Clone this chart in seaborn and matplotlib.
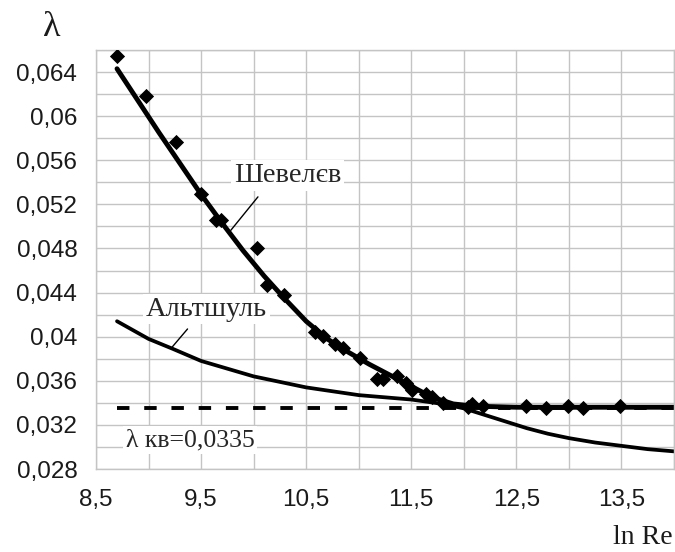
import matplotlib
matplotlib.use("Agg")
import matplotlib.pyplot as plt
import seaborn as sns

# curve: Shevelev formula
shev_x = [8.70, 8.90, 9.10, 9.30, 9.50, 9.70, 9.90, 10.10, 10.30, 10.50, 10.70,
          10.90, 11.10, 11.30, 11.50, 11.70, 11.90, 12.10, 12.50, 13.00, 13.50, 14.00]
shev_y = [0.0643, 0.0614, 0.0585, 0.0557, 0.0529, 0.0503, 0.0478, 0.0455, 0.0434,
          0.0414, 0.0398, 0.0386, 0.0375, 0.0365, 0.0355, 0.0345, 0.0339, 0.0337,
          0.0336, 0.0336, 0.0336, 0.0336]

# Altshul formula
alt_x = [8.70, 9.00, 9.23, 9.50, 10.00, 10.50, 11.00, 11.50, 11.80, 12.00, 12.20,
         12.40, 12.60, 12.80, 13.00, 13.25, 13.50, 13.75, 14.00]
alt_y = [0.0414, 0.0398, 0.0389, 0.0378, 0.0364, 0.0354, 0.0347, 0.0343, 0.0339,
         0.0335, 0.0329, 0.0323, 0.0317, 0.0312, 0.0308, 0.0304, 0.0301, 0.0298,
         0.0296]

# experimental points
exp_x = [8.70, 8.98, 9.26, 9.50, 9.64, 9.69, 10.03, 10.13, 10.29, 10.58, 10.66,
         10.77, 10.85, 11.01, 11.17, 11.23, 11.36, 11.45, 11.51, 11.64, 11.70,
         11.80, 12.04, 12.08, 12.18, 12.59, 12.78, 12.99, 13.13, 13.49]
exp_y = [0.0655, 0.0618, 0.0577, 0.0529, 0.0506, 0.0506, 0.0480, 0.0447, 0.0438,
         0.0404, 0.0401, 0.0393, 0.0390, 0.0381, 0.0362, 0.0362, 0.0364, 0.0358,
         0.0352, 0.0348, 0.0345, 0.0340, 0.0336, 0.0339, 0.0337, 0.0337, 0.0335,
         0.0337, 0.0335, 0.0337]

# quadratic-law value
kv_x = [8.70, 14.00]
kv_y = [0.0335, 0.0335]

xticks = [8.5, 9.5, 10.5, 11.5, 12.5, 13.5]
xtick_labels = ["8,5", "9,5", "10,5", "11,5", "12,5", "13,5"]
xminor = [9.0, 10.0, 11.0, 12.0, 13.0, 14.0]
yticks = [0.028, 0.032, 0.036, 0.040, 0.044, 0.048, 0.052, 0.056, 0.060, 0.064]
ytick_labels = ["0,028", "0,032", "0,036", "0,04", "0,044", "0,048", "0,052",
                "0,056", "0,06", "0,064"]
yminor = [0.030, 0.034, 0.038, 0.042, 0.046, 0.050, 0.054, 0.058, 0.062, 0.066]

sns.set_style("white")
plt.rcParams['font.family'] = ['Liberation Sans', 'DejaVu Sans']
serif = ['Liberation Serif', 'DejaVu Serif']
grid_c = '#c4c4c4'

fig = plt.figure(figsize=(6.75, 5.52), dpi=100)
ax = fig.add_axes([96 / 675, 1 - 469 / 552, 578 / 675, 419 / 552])

sns.lineplot(x=kv_x, y=kv_y, ax=ax, color='black', lw=2.8, ls=(0, (3.2, 3.8)))
sns.lineplot(x=alt_x, y=alt_y, ax=ax, color='black', lw=2.7)
sns.lineplot(x=shev_x, y=shev_y, ax=ax, color='black', lw=3.5)
sns.scatterplot(x=exp_x, y=exp_y, ax=ax, color='black', marker='D', s=60,
                edgecolor='black', linewidth=0, zorder=4)

ax.set_xlim(8.5, 14.0)
ax.set_ylim(0.028, 0.066)
ax.set_xticks(xticks)
ax.set_xticklabels(xtick_labels)
ax.set_xticks(xminor, minor=True)
ax.set_yticks(yticks)
ax.set_yticklabels(ytick_labels)
ax.set_yticks(yminor, minor=True)
ax.set_axisbelow(True)
ax.grid(which='both', color=grid_c, lw=1.0)
ax.tick_params(which='major', length=5.5, width=1, color=grid_c, labelsize=17.5,
               labelcolor='#1a1a1a')
ax.tick_params(axis='x', which='major', pad=9)
ax.tick_params(axis='y', which='major', pad=8)
ax.tick_params(which='minor', length=0)
for s in ax.spines.values():
    s.set_color(grid_c)
    s.set_linewidth(1.0)

box = dict(facecolor='white', edgecolor='none', pad=2)
ax.text(10.323, 0.05403, "Шевелєв", family=serif, fontsize=20.5, ha='center',
        va='baseline', bbox=box, zorder=5)
ax.text(9.554, 0.04191, "Альтшуль", family=serif, fontsize=20.5, ha='center',
        va='baseline', bbox=box, zorder=5)
ax.text(9.397, 0.03009, "λ кв=0,0335", family=serif, fontsize=18.5, ha='center',
        va='baseline', bbox=box, zorder=5)

line = dict(arrowstyle='-', lw=1.0, color='black', shrinkA=0, shrinkB=0)
ax.annotate("", xy=(9.782, 0.04964), xytext=(10.041, 0.05268), arrowprops=line)
ax.annotate("", xy=(9.222, 0.03903), xytext=(9.371, 0.0407), arrowprops=line)

fig.text(52 / 675, 1 - 28 / 552, "λ", family=serif, fontsize=26, ha='center',
         va='center', color='#1a1a1a')
fig.text(643 / 675, 1 - 537 / 552, "ln Re", family=serif, fontsize=20,
         ha='center', va='center', color='#1a1a1a')

fig.savefig("out.png", dpi=100)
